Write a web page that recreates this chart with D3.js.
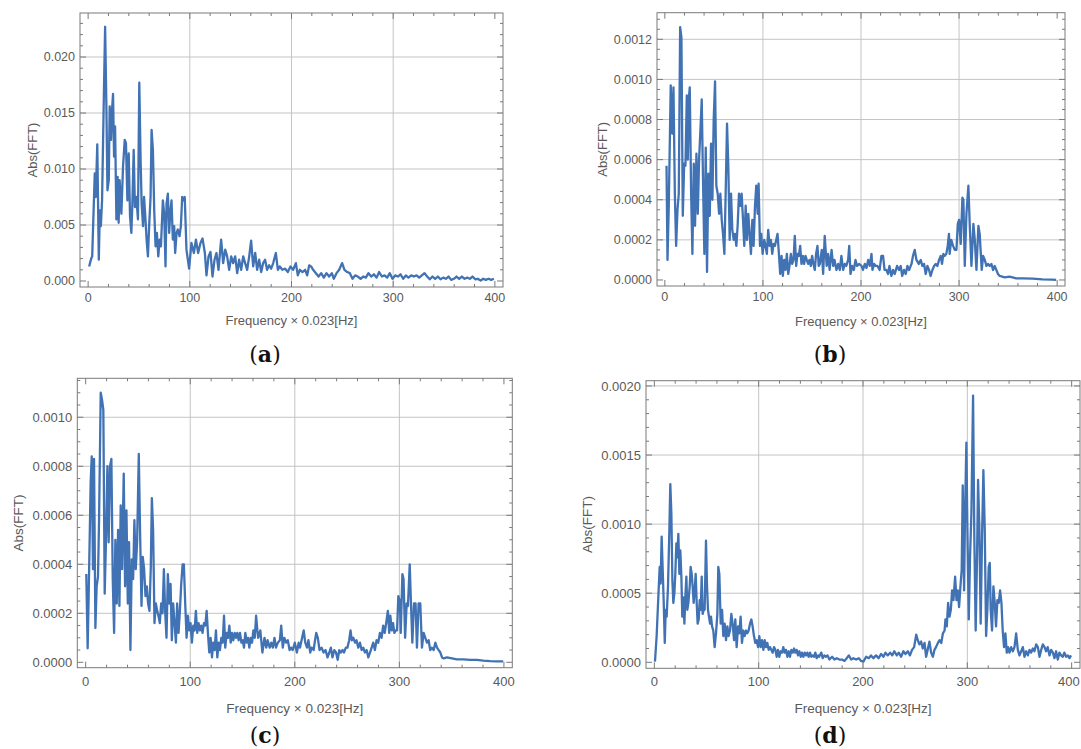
<!DOCTYPE html>
<html>
<head>
<meta charset="utf-8">
<script src="https://cdn.jsdelivr.net/npm/d3@7"></script>
<style>
  body { margin: 0; background: #fff; }
  svg { display: block; }
</style>
</head>
<body>
<svg id="chart" width="1081" height="749"></svg>
<script>
// spectra: [frequency index, Abs(FFT)]
const specA = [[1,0.0013],[3,0.002],[4,0.0022],[6.5,0.0096],[7.5,0.0075],[9,0.0122],[10.5,0.0019],[11.5,0.0063],[12.5,0.0049],[13.7,0.0072],[15.4,0.0162],[16.7,0.0227],[18,0.0153],[19,0.0081],[20.3,0.009],[21.2,0.0156],[22.5,0.0126],[23.5,0.0153],[24.5,0.0167],[25.5,0.0111],[26.5,0.0138],[27.8,0.0055],[29,0.0093],[30,0.0052],[31,0.009],[32.7,0.006],[34.3,0.0102],[36,0.0126],[37.2,0.0123],[38.6,0.0072],[39.9,0.0114],[41.2,0.0058],[42.5,0.0043],[43.5,0.0069],[44.8,0.0117],[46,0.0066],[47.4,0.0075],[49,0.0055],[50.3,0.0177],[51.6,0.0108],[52.6,0.0069],[54,0.0049],[55,0.0075],[56.2,0.0058],[57.5,0.0037],[58.8,0.0022],[60,0.0049],[61.4,0.0075],[62.4,0.0135],[63.7,0.0117],[65,0.0063],[66.3,0.0031],[67.6,0.0043],[69,0.0022],[70.3,0.0037],[71.6,0.0031],[73.5,0.0072],[74.8,0.006],[76.1,0.0013],[77.1,0.0069],[78.4,0.0078],[79.7,0.0043],[80.7,0.006],[82,0.0072],[83.3,0.0037],[84.6,0.0049],[85.6,0.0025],[87,0.0043],[88.2,0.0046],[89.9,0.004],[91.2,0.0049],[92.5,0.0075],[93.8,0.0072],[95,0.0075],[96.7,0.0028],[99.3,0.0011],[101.6,0.0034],[104,0.0025],[106,0.0037],[108.2,0.0025],[110.5,0.0034],[112.5,0.0038],[114.8,0.0025],[116.4,0.0005],[118.4,0.0022],[120.3,0.0026],[122.3,0.0004],[124.3,0.0019],[126.2,0.0025],[128.2,0.001],[130.8,0.0037],[132.8,0.0016],[134.8,0.0028],[136.7,0.0022],[138.7,0.001],[140.7,0.0022],[142.6,0.0016],[144.6,0.0022],[146.6,0.0007],[148.5,0.0019],[150.5,0.001],[152.5,0.0022],[154.4,0.0016],[156.4,0.001],[158.4,0.0022],[160.3,0.0036],[162.3,0.0013],[164.3,0.0025],[166.2,0.001],[168.2,0.0019],[170.2,0.0008],[172.1,0.0016],[174,0.0019],[176,0.001],[178,0.0014],[180,0.0011],[182,0.0016],[184.6,0.0025],[186.6,0.001],[188.5,0.0013],[191,0.001],[193.8,0.0011],[196.4,0.0008],[199,0.0013],[201.6,0.001],[204.3,0.0016],[206.2,0.0005],[208.2,0.001],[210.8,0.0008],[213.4,0.001],[215.4,0.0005],[217.4,0.0014],[219.3,0.0013],[221.3,0.001],[224,0.0007],[226.6,0.0004],[229.2,0.0007],[231.8,0.0003],[234.4,0.0007],[237,0.0004],[239.7,0.0007],[241.6,0.0002],[244.3,0.0007],[246.9,0.001],[249.8,0.0016],[252.1,0.001],[254.8,0.0008],[257.4,0.0007],[260,0.0002],[262.6,0.0005],[265.2,0.0004],[267.9,0.0002],[270.5,0.0004],[273.1,0.0003],[275.7,0.0007],[278.4,0.0004],[281,0.0006],[283.6,0.0003],[286.2,0.0008],[288.9,0.0004],[291.5,0.0005],[294.1,0.0003],[296.7,0.0007],[299.3,0.0002],[302,0.0005],[304.6,0.0004],[307.2,0.0006],[309.8,0.0002],[312.5,0.0005],[315,0.0003],[317.7,0.0005],[320.3,0.0004],[323,0.0005],[325.6,0.0003],[328.2,0.0005],[330.8,0.0007],[333.4,0.0004],[336,0.00015],[338.7,0.0004],[341.3,0.0002],[343.9,0.0004],[346.5,0.00015],[349.2,0.0003],[351.8,0.0002],[354.4,0.0004],[357,0.0001],[359.7,0.0002],[362.3,0.0004],[364.9,0.0002],[367.5,0.0004],[370.2,0.0002],[372.8,0.0003],[375.4,0.0002],[378,0.0004],[380.7,0.00015],[383.3,0.0002],[386,0.00003],[388.5,0.0002],[391.1,0.0001],[393.8,0.0002],[396.4,0.0001],[399,0.0002]];

const specB = [[1.7,0.00057],[2.7,0.0001],[4,0.00037],[6,0.00097],[7.5,0.00073],[8.8,0.00096],[10.2,0.00043],[11.5,0.00017],[12.9,0.00035],[14.2,0.00043],[15.6,0.00126],[16.9,0.00121],[18.3,0.00032],[19.7,0.00058],[21,0.00057],[22.4,0.00092],[23.4,0.0006],[24.4,0.0009],[25.4,0.00096],[26.8,0.00043],[28.1,0.00013],[29.5,0.00058],[30.8,0.00027],[32.2,0.00063],[33.6,0.00033],[34.9,0.0006],[36.3,0.00075],[37.6,0.0009],[39,0.00047],[40.3,0.00013],[41.7,0.00066],[43,0.00004],[44.4,0.00053],[45.8,0.00032],[47.1,0.00068],[48.5,0.0004],[49.8,0.0008],[51.2,0.00099],[52.5,0.00047],[53.9,0.00043],[55.3,0.00033],[56.6,0.00043],[58,0.0003],[59.3,0.00023],[60.7,0.00013],[62,0.00043],[63.4,0.00078],[64.7,0.00057],[66.1,0.0002],[67.5,0.00043],[68.8,0.00025],[70.2,0.0002],[71.5,0.00023],[72.9,0.00017],[74.2,0.00027],[75.6,0.00043],[77,0.00037],[78.3,0.00043],[79.7,0.0003],[81,0.00017],[82.4,0.00037],[83.7,0.0002],[85.1,0.00033],[86.4,0.00023],[87.8,0.00013],[89.2,0.0003],[90.5,0.00017],[91.9,0.00037],[93.2,0.00047],[94.6,0.00033],[95.6,0.00048],[97,0.00017],[98.3,0.00023],[99.7,0.00013],[101.4,0.0002],[102.7,0.00017],[104,0.00013],[105.4,0.00025],[106.8,0.00017],[108.1,0.0002],[109.5,0.00013],[110.8,0.00018],[112.2,0.00017],[113.6,0.0002],[114.9,0.00023],[116.3,0.00013],[117.6,0.00003],[119,0.00012],[120.3,0.00002],[121.7,0.0001],[123,0.00005],[124.4,0.00013],[125.8,0.00003],[127.1,0.00007],[128.5,0.00013],[129.8,0.00008],[131.2,0.0001],[132.5,0.00022],[133.9,0.00007],[135.3,0.00013],[136.6,0.00012],[138,0.00017],[139.3,0.00008],[140.7,0.00012],[142,0.00008],[143.4,0.00012],[144.7,0.0001],[146.1,0.00008],[147.5,0.0001],[148.8,0.00007],[150.2,0.00012],[151.5,0.00008],[152.9,0.00005],[154.2,0.00013],[155.6,0.00017],[156.9,0.00007],[158,0.00008],[160,0.00015],[161.4,0.00003],[163,0.00022],[165,0.00007],[166.5,0.00013],[168,0.00005],[170,0.00015],[171.6,0.00007],[173,0.0001],[175,0.00005],[176.7,0.00008],[178.4,0.00005],[180,0.00012],[181.8,0.00005],[183.5,0.00008],[185,0.00007],[186.9,0.0001],[188,0.00017],[189.3,0.00003],[191,0.00007],[192.7,0.00005],[194.4,0.0001],[196,0.00007],[198,0.00008],[200.5,0.00007],[202,0.00005],[203.9,0.00008],[205.6,0.00006],[207.3,0.0001],[209,0.00007],[210.7,0.00013],[211.7,0.00005],[213.4,0.00008],[215,0.00007],[216.8,0.00007],[219,0.00005],[220.8,0.00012],[222.5,0.00012],[224,0.00005],[225.9,0.00005],[227.6,0.00003],[229,0.00007],[231,0.00002],[232.7,0.00005],[234.4,0.00003],[236.8,0.00007],[238.8,0.00005],[240.5,0.00007],[242,0.00002],[243.9,0.00005],[245.6,0.00003],[247.3,0.00007],[249,0.00005],[251.5,0.00008],[253,0.00012],[254.8,0.00015],[256.5,0.0001],[258.9,0.00008],[260.9,0.0001],[262.6,0.00007],[264.3,0.00008],[266,0.00003],[267.7,0.00007],[269.4,0.00005],[271,0.00002],[272.8,0.00005],[274.5,0.00007],[276.2,0.00008],[277.9,0.00007],[279.6,0.0001],[281.3,0.00012],[282.6,0.00008],[284,0.00013],[285.4,0.00012],[287,0.00013],[288.4,0.00017],[289.7,0.00023],[290.4,0.00013],[292,0.0002],[293.9,0.00017],[295.6,0.00015],[297.3,0.00015],[298.7,0.00028],[300,0.0003],[301.7,0.00018],[303.4,0.00041],[304.4,0.0004],[305.8,0.00007],[307.5,0.00033],[309.5,0.00047],[310.9,0.00027],[312.6,0.00007],[314.6,0.00028],[316,0.0002],[317.7,0.00005],[319.7,0.00027],[321,0.00023],[323.1,0.00005],[324.5,0.00012],[326.2,0.0001],[327.9,0.00007],[329.6,0.00008],[331.3,0.00007],[333,0.00008],[334.6,0.00005],[336.3,0.00007],[338,0.00005],[339.7,0.00003],[341.4,0.00002],[346.5,0.000013],[351.5,0.000017],[358.3,0.000008],[365,0.000008],[375,0.000007],[385,0.000003],[395,0.000002],[399,0.000001]];

const specC = [[0.6,0.00036],[1.9,0.000057],[3.2,0.00035],[4.8,0.00074],[5.8,0.00084],[7,0.00038],[8,0.00083],[9.3,0.00014],[10.5,0.00031],[11.8,0.00035],[12.8,0.00058],[14.4,0.0011],[15.7,0.00107],[16.9,0.00103],[18.2,0.00028],[19.5,0.00051],[20.8,0.0008],[22,0.00049],[23.3,0.0008],[24.6,0.00083],[25.9,0.00034],[27.2,0.00012],[28.4,0.0005],[29.7,0.00024],[31,0.00054],[32.3,0.00023],[33.5,0.00064],[34.8,0.00038],[36.4,0.00077],[37.7,0.00031],[39,0.00062],[40.3,0.00024],[41.5,0.00049],[42.8,0.00005],[44.1,0.00042],[45.4,0.00034],[46.6,0.00058],[47.9,0.00038],[49.2,0.00049],[50.8,0.00085],[52,0.00054],[53.4,0.00023],[54.6,0.00043],[55.9,0.00038],[57.2,0.00027],[58.5,0.00031],[59.7,0.00024],[61,0.00021],[62.3,0.00039],[63.3,0.00067],[64.5,0.00054],[65.8,0.00016],[67.1,0.00024],[68.4,0.00021],[69.6,0.00019],[70.9,0.00016],[72.2,0.00024],[73.5,0.0002],[74.8,0.00038],[76,0.00021],[77.3,0.0001],[78.6,0.00036],[79.9,0.00024],[81.2,0.00032],[82.4,0.00009],[83.7,0.00024],[85,0.00016],[86.3,0.00008],[87.5,0.00024],[88.8,0.00012],[90.1,0.00021],[91.4,0.00032],[92.7,0.0004],[93.9,0.0004],[95.2,0.00024],[96.5,0.0001],[97.8,0.00019],[99,0.00013],[100.3,0.00016],[101.6,0.00008],[102.9,0.00015],[104.2,0.00013],[105.4,0.00021],[106.7,0.00012],[108,0.00016],[109.3,0.00013],[110.5,0.00015],[111.8,0.00012],[113.1,0.00016],[114.4,0.00015],[115.7,0.00021],[116.9,0.00012],[118.2,0.00004],[119.5,0.0001],[120.8,0.00002],[122,0.00008],[123.3,0.00005],[124.6,0.00013],[125.9,0.00002],[127.2,0.00008],[128.4,0.00005],[129.7,0.0001],[131,0.00008],[132.3,0.00019],[133.5,0.00006],[134.8,0.00012],[136.1,0.0001],[137.4,0.00015],[138.7,0.00008],[139.9,0.00012],[141.2,0.00009],[142.5,0.00012],[143.8,0.0001],[145,0.00012],[146.3,0.00009],[147.6,0.00012],[148.9,0.00008],[150.2,0.00009],[151.4,0.00006],[152.7,0.00012],[154,0.00008],[155.3,0.0001],[156.5,0.00006],[157.8,0.0001],[159.1,0.00008],[160.4,0.00013],[161.7,0.0001],[163,0.00019],[164.2,0.00013],[165,0.0001],[167,0.00013],[169,0.00004],[171,0.0001],[172.7,0.00006],[174,0.00009],[176,0.00006],[177.5,0.00008],[179,0.00006],[180.6,0.0001],[182,0.00006],[183.8,0.00008],[185.7,0.00009],[187,0.00015],[188.5,0.00006],[190,0.0001],[191.7,0.00008],[193.3,0.00009],[195,0.00005],[196.4,0.00006],[198,0.00005],[200,0.00008],[202,0.00004],[203.7,0.00008],[205,0.00006],[207,0.0001],[208.5,0.00013],[210,0.00008],[211.7,0.00006],[213,0.00009],[214.8,0.00004],[216,0.00006],[218,0.00005],[219,0.00008],[220.5,0.00012],[222,0.0001],[223.7,0.00005],[225.6,0.00006],[227.5,0.00004],[229.4,0.00005],[231.3,0.00002],[233,0.00004],[234.5,0.00006],[236,0.00002],[237.8,0.00005],[239.4,0.00004],[241,0.00001],[242.5,0.00005],[244,0.00004],[245.6,0.00005],[247,0.00004],[248.8,0.00006],[250.3,0.00006],[252,0.00009],[253.3,0.00013],[254.5,0.00009],[256,0.0001],[257.6,0.00008],[259,0.00009],[260.7,0.00006],[262.3,0.00008],[263.9,0.00005],[265.5,0.00006],[267,0.00004],[268.7,0.00005],[270.3,0.00002],[271.9,0.00004],[273.5,0.00006],[275,0.00008],[276.6,0.00005],[278.2,0.00009],[279.8,0.00008],[281.4,0.00012],[283,0.0001],[284.5,0.00015],[286,0.00012],[287.7,0.00017],[289,0.00021],[290.3,0.00012],[291.4,0.00019],[292.7,0.00013],[294,0.00016],[295.2,0.00012],[296.5,0.00013],[297.8,0.00013],[299,0.00027],[300.4,0.00025],[301.3,0.00012],[302.9,0.00036],[304,0.00034],[305.5,0.0001],[307,0.00024],[308.2,0.00023],[309.9,0.0004],[311.1,0.00024],[312.4,0.00008],[314,0.00024],[315.5,0.00024],[316.8,0.00006],[318.4,0.00024],[320,0.00024],[321.6,0.00006],[323.2,0.00012],[324.8,0.0001],[326.4,0.00008],[328,0.00009],[329.5,0.00005],[331,0.00006],[332.8,0.00005],[334.4,0.00008],[336,0.00006],[337.6,0.00005],[339.2,0.00004],[340.8,0.00002],[342.4,0.000016],[345.5,0.00002],[350.3,0.000016],[355,0.000012],[361.4,0.000012],[367.7,0.00001],[374,0.00001],[380.4,0.000007],[386.8,0.000005],[393,0.000004],[399.3,0.000004]];

const specD = [[0.6,0.000005],[2.2,0.00019],[3.8,0.00047],[5.1,0.00069],[6,0.00057],[7,0.00091],[8,0.00067],[9,0.00043],[10,0.00014],[10.9,0.00038],[11.8,0.00033],[13.1,0.00055],[14.4,0.00096],[15.3,0.00129],[16.3,0.00108],[17.3,0.00059],[18.2,0.00043],[19.2,0.0005],[20.1,0.00064],[21.1,0.00086],[22,0.00076],[23,0.00093],[24,0.00064],[24.9,0.00081],[25.9,0.00062],[26.8,0.00033],[27.8,0.00047],[28.8,0.00028],[29.7,0.00047],[30.7,0.00062],[31.6,0.00038],[32.6,0.00043],[33.9,0.00055],[34.8,0.00069],[35.8,0.00064],[36.7,0.00055],[37.7,0.00043],[38.7,0.00052],[39.6,0.00064],[40.6,0.00043],[41.5,0.00028],[42.5,0.00031],[43.5,0.00045],[44.4,0.00038],[45.4,0.00062],[46.3,0.00035],[47.3,0.00038],[48.2,0.00038],[49.5,0.00088],[50.5,0.00055],[51.4,0.00038],[52.4,0.00033],[53.4,0.00028],[54.3,0.00033],[55.3,0.00026],[56.5,0.00023],[57.8,0.00011],[59.1,0.00021],[60.4,0.00035],[61.3,0.00069],[62.3,0.00064],[63.6,0.00028],[64.9,0.00038],[66.1,0.00019],[67.4,0.00028],[68.7,0.00016],[70,0.00026],[71.2,0.00019],[72.5,0.00023],[73.8,0.00035],[75,0.00028],[76.4,0.00016],[77.6,0.00031],[78.9,0.00011],[80.2,0.00026],[81.5,0.00021],[82.7,0.00033],[84,0.00014],[85.3,0.00023],[86.6,0.00019],[87.9,0.00023],[89.1,0.00021],[90.4,0.00023],[91.7,0.00028],[93,0.00031],[94.2,0.00026],[95.5,0.00019],[96.8,0.00014],[98.1,0.00016],[99.4,0.00011],[100.6,0.00019],[101.9,0.00011],[103.2,0.00016],[104.5,0.00009],[105.8,0.00016],[107,0.00011],[108.3,0.00014],[109.6,0.00009],[110.9,0.00011],[112.1,0.00009],[113.4,0.00007],[114.7,0.00011],[116,0.00009],[117.3,0.00004],[118.5,0.00009],[119.8,0.00004],[121.1,0.00008],[122.4,0.00007],[123.6,0.00011],[124.9,0.00007],[126.2,0.00009],[127.5,0.00004],[128.8,0.00008],[130,0.00004],[131.3,0.00009],[132.6,0.00007],[133.9,0.0001],[135.1,0.00007],[136.4,0.00009],[137.7,0.00005],[139,0.00008],[140.3,0.00004],[141.5,0.00007],[142.8,0.00004],[144.1,0.00007],[145.4,0.00005],[146.6,0.00007],[147.9,0.00004],[149.2,0.00007],[150.5,0.00004],[151.8,0.00005],[153,0.00004],[154.3,0.00007],[155.6,0.00003],[156.9,0.00005],[158,0.00004],[160,0.00007],[161.4,0.00003],[163,0.00005],[164.6,0.00004],[166,0.00005],[167.8,0.00002],[170.4,0.00004],[172.6,0.00002],[174.8,0.00003],[177.4,0.00002],[180,0.00002],[182.2,0.00001],[184.4,0.00003],[186.4,0.00005],[188.6,0.00002],[190.8,0.00003],[193.4,0.00002],[196,0.00003],[198.1,0.00001],[200.4,0.000005],[203,0.00004],[205.5,0.00003],[207.7,0.00005],[210,0.00003],[212.5,0.00005],[215,0.00003],[217.3,0.00006],[219.6,0.00004],[221.5,0.00007],[223.7,0.00005],[226,0.00007],[228,0.00005],[230,0.00008],[232.4,0.00005],[234.3,0.00007],[236.5,0.00004],[238.7,0.00008],[240.7,0.00006],[243,0.00008],[245,0.00005],[247,0.00009],[249,0.00011],[251,0.0002],[252.5,0.00016],[254,0.00013],[255.7,0.00015],[257.3,0.0001],[259,0.00014],[260.5,0.00004],[262,0.00009],[263.7,0.00015],[265.3,0.00007],[267,0.00004],[268.5,0.00009],[270,0.00011],[271.8,0.00014],[273.4,0.00016],[275,0.00014],[276.6,0.00021],[278.2,0.00023],[279,0.00031],[280.3,0.00026],[281.6,0.00043],[282.9,0.00033],[284.2,0.00038],[285.4,0.00052],[286.7,0.00045],[288.3,0.00062],[289.6,0.00045],[290.8,0.00052],[292.1,0.0004],[293.4,0.00055],[294.6,0.00067],[295.6,0.00128],[296.9,0.00052],[297.8,0.00108],[299.1,0.00159],[300,0.001],[301.4,0.00031],[302.6,0.00076],[303.9,0.00108],[305.5,0.00193],[306.7,0.00091],[308,0.00023],[309.3,0.00076],[310.3,0.00132],[311.5,0.00098],[312.8,0.00028],[314.1,0.00091],[315.4,0.00139],[316.7,0.00096],[318,0.00019],[319.2,0.00038],[320.5,0.00069],[321.5,0.00072],[322.4,0.00038],[323.7,0.00023],[325,0.00055],[326.3,0.00043],[327.5,0.00026],[328.8,0.00045],[330.1,0.00043],[331.4,0.00052],[332.7,0.00043],[333.9,0.00023],[335.2,0.00011],[336.5,0.00021],[337.8,0.00007],[339,0.00011],[340.4,0.00007],[342,0.00011],[343.6,0.00008],[345.2,0.00011],[346.8,0.00021],[348.4,0.00009],[350,0.00005],[351.6,0.00008],[353.2,0.00011],[354.8,0.00004],[356.4,0.00008],[358,0.00005],[359.6,0.00009],[361.2,0.00007],[362.8,0.0001],[364.3,0.00008],[366,0.00013],[367.6,0.00011],[369.2,0.00004],[370.8,0.00009],[372.4,0.00013],[374,0.00011],[375.5,0.00008],[377,0.00011],[378.8,0.00005],[380.3,0.00009],[382,0.00007],[383.5,0.00003],[385.1,0.00008],[386.7,0.00002],[388.3,0.00007],[389.9,0.00005],[391.5,0.00004],[393,0.00007],[394.7,0.00004],[396.3,0.00005],[397.9,0.00003],[399.4,0.00005]];

const xTicks = [0, 100, 200, 300, 400];
const yTicksA = [0, 0.005, 0.010, 0.015, 0.020];
const yTicksB = [0, 0.0002, 0.0004, 0.0006, 0.0008, 0.0010, 0.0012];
const yTicksC = [0, 0.0002, 0.0004, 0.0006, 0.0008, 0.0010];
const yTicksD = [0, 0.0005, 0.0010, 0.0015, 0.0020];
const panelNames = ["a", "b", "c", "d"];

const xLabel = "Frequency \u00d7 0.023[Hz]";
const yLabel = "Abs(FFT)";

// layout of each panel (frame box in px, y range incl. padding)
const panels = [
  { name: panelNames[0], data: specA, box: [80, 13, 503, 287], yDom: [-0.000536, 0.02393], ticks: yTicksA, fmt: ".3f", minor: 0.001, fs: 12.5, lab: 13, tickOff: 15, labOff: 38, yLabX: 32, tagY: 362 },
  { name: panelNames[1], data: specB, box: [657, 12.7, 1065, 286], yDom: [-0.00003, 0.0013326], ticks: yTicksB, fmt: ".4f", minor: 0.00005, fs: 12.5, lab: 13, tickOff: 15, labOff: 40, yLabX: 602, tagY: 362 },
  { name: panelNames[2], data: specC, box: [77.3, 378.3, 512.3, 667.7], yDom: [-0.000022, 0.001159], ticks: yTicksC, fmt: ".4f", minor: 0.00005, fs: 13, lab: 13.5, tickOff: 18, labOff: 45, yLabX: 18, tagY: 743 },
  { name: panelNames[3], data: specD, box: [646, 380.7, 1080, 668.3], yDom: [-0.0000434, 0.002038], ticks: yTicksD, fmt: ".4f", minor: 0.0001, fs: 13, lab: 13.5, tickOff: 18, labOff: 45, yLabX: 587, tagY: 743 }
];

const W = 1081;
const svg = d3.select("#chart");
const frameColor = "#7a7a7a";
const textColor = "#5a5a5a";
const lineColor = "#4072b4";

panels.forEach((p, i) => {
  const [L, T, R, B] = p.box;
  const x = d3.scaleLinear().domain([-8, 408]).range([L, R]);
  const y = d3.scaleLinear().domain(p.yDom).range([B, T]);
  const g = svg.append("g");

  // grid lines
  xTicks.filter(t => t > 0 && t < 400).forEach(t => {
    g.append("line").attr("x1", x(t)).attr("x2", x(t)).attr("y1", T).attr("y2", B)
      .attr("stroke", "#c4c4c4").attr("stroke-width", 1);
  });
  p.ticks.filter(t => t > 0).forEach(t => {
    g.append("line").attr("x1", L).attr("x2", R).attr("y1", y(t)).attr("y2", y(t))
      .attr("stroke", "#c4c4c4").attr("stroke-width", 1);
  });

  // spectrum
  g.append("clipPath").attr("id", "clip" + i)
    .append("rect").attr("x", L).attr("y", T).attr("width", R - L).attr("height", B - T);
  g.append("path")
    .datum(p.data)
    .attr("clip-path", `url(#clip${i})`)
    .attr("fill", "none")
    .attr("stroke", lineColor)
    .attr("stroke-width", 2.3)
    .attr("stroke-linejoin", "round")
    .attr("d", d3.line().x(d => x(d[0])).y(d => y(d[1])));

  // frame
  g.append("rect").attr("x", L).attr("y", T).attr("width", R - L).attr("height", B - T)
    .attr("fill", "none").attr("stroke", frameColor).attr("stroke-width", 1);

  // inward ticks on all four sides
  const xMinor = d3.range(0, 401, 20);
  xMinor.forEach(t => {
    const len = xTicks.includes(t) ? 6 : 3;
    g.append("line").attr("x1", x(t)).attr("x2", x(t)).attr("y1", B).attr("y2", B - len).attr("stroke", frameColor);
    g.append("line").attr("x1", x(t)).attr("x2", x(t)).attr("y1", T).attr("y2", T + len).attr("stroke", frameColor);
  });
  const nMinor = Math.floor(p.yDom[1] / p.minor + 1e-6);
  d3.range(0, nMinor + 1).forEach(k => {
    const v = k * p.minor;
    const major = p.ticks.some(t => Math.abs(t - v) < p.minor * 0.01);
    const len = major ? 6 : 3;
    g.append("line").attr("x1", L).attr("x2", L + len).attr("y1", y(v)).attr("y2", y(v)).attr("stroke", frameColor);
    g.append("line").attr("x1", R).attr("x2", R - len).attr("y1", y(v)).attr("y2", y(v)).attr("stroke", frameColor);
  });

  // tick labels
  const fmt = d3.format(p.fmt);
  g.selectAll(".xt").data(xTicks).enter().append("text")
    .attr("x", d => Math.min(x(d), W - 1 - p.fs * 0.85))
    .attr("y", B + p.tickOff)
    .attr("text-anchor", "middle")
    .style("font-family", "'Liberation Sans', Arial, sans-serif")
    .style("font-size", p.fs + "px").attr("fill", textColor)
    .text(d => d);
  g.selectAll(".yt").data(p.ticks).enter().append("text")
    .attr("x", L - 5).attr("y", d => y(d) + p.fs * 0.35)
    .attr("text-anchor", "end")
    .style("font-family", "'Liberation Sans', Arial, sans-serif")
    .style("font-size", p.fs + "px").attr("fill", textColor)
    .text(d => fmt(d));

  // axis labels
  g.append("text")
    .attr("x", (L + R) / 2).attr("y", B + p.labOff)
    .attr("text-anchor", "middle")
    .style("font-family", "'Liberation Sans', Arial, sans-serif")
    .style("font-size", p.lab + "px").attr("fill", textColor)
    .text(xLabel);
  g.append("text")
    .attr("transform", `translate(${p.yLabX},${(T + B) / 2}) rotate(-90)`)
    .attr("dy", "0.35em")
    .attr("text-anchor", "middle")
    .style("font-family", "'Liberation Sans', Arial, sans-serif")
    .style("font-size", p.lab + "px").attr("fill", textColor)
    .text(yLabel);

  // panel tag, e.g. (a)
  const tag = g.append("text")
    .attr("x", i % 2 === 0 ? 265 : 830).attr("y", p.tagY)
    .attr("text-anchor", "middle")
    .style("font-family", "'DejaVu Serif', serif")
    .style("font-size", "22px").attr("fill", "#111");
  tag.append("tspan").text("(");
  tag.append("tspan").style("font-weight", "bold").text(p.name);
  tag.append("tspan").text(")");
});
</script>
</body>
</html>
